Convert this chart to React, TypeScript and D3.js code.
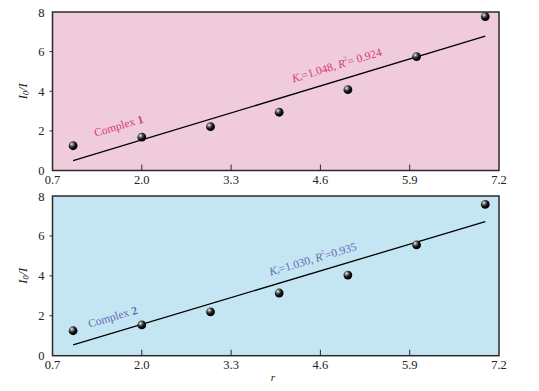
import React from 'react';
import * as d3 from 'd3';

const xTicks = [0.7, 2.0, 3.3, 4.6, 5.9, 7.2];
const yTicks = [0, 2, 4, 6, 8];
const rValues = [1, 2, 3, 4, 5, 6, 7];
const complex1Values = [1.25, 1.68, 2.21, 2.94, 4.08, 5.75, 7.77];
const complex2Values = [1.25, 1.54, 2.2, 3.14, 4.04, 5.55, 7.58];
const fit1 = { slope: 1.048, intercept: -0.55, r2: '0.924' };
const fit2 = { slope: 1.03, intercept: -0.49, r2: '0.935' };

const W = 539;
const H = 391;
const left = 52.5;
const right = 499;
const FONT = '"Liberation Serif", "DejaVu Serif", serif';

type PanelProps = {
  top: number;
  bottom: number;
  values: number[];
  fit: { slope: number; intercept: number; r2: string };
  fill: string;
  textColor: string;
  name: string;
  num: string;
  nameAt: [number, number];
  fitAt: [number, number];
  r2Sep: string;
  showXLabel: boolean;
};

const Panel = ({ top, bottom, values, fit, fill, textColor, name, num, nameAt, fitAt, r2Sep, showXLabel }: PanelProps) => {
  const x = d3.scaleLinear().domain([0.7, 7.2]).range([left, right]);
  const y = d3.scaleLinear().domain([0, 8]).range([bottom, top]);
  const x0 = rValues[0];
  const x1 = rValues[rValues.length - 1];
  const line = d3.line<number>().x(d => x(d)).y(d => y(fit.slope * d + fit.intercept));
  const angle = (Math.atan2(y(fit.slope * x1 + fit.intercept) - y(fit.slope * x0 + fit.intercept), x(x1) - x(x0)) * 180) / Math.PI;
  return (
    <g>
      <rect x={left} y={top} width={right - left} height={bottom - top} fill={fill} stroke="#2b2b2b" strokeWidth={1.5} />
      {xTicks.slice(1, -1).map(t => (
        <line key={t} x1={x(t)} x2={x(t)} y1={bottom} y2={bottom - 6} stroke="#2b2b2b" strokeWidth={1} />
      ))}
      {yTicks.slice(1, -1).map(t => (
        <line key={t} x1={left - 3} x2={left} y1={y(t)} y2={y(t)} stroke="#2b2b2b" strokeWidth={1} />
      ))}
      {xTicks.map(t => (
        <text key={t} x={x(t)} y={bottom + 13} textAnchor="middle" fontSize={12.5} fill="#222" fontFamily={FONT}>
          {t.toFixed(1)}
        </text>
      ))}
      {yTicks.map(t => (
        <text key={t} x={left - 8} y={y(t) + 4.5} textAnchor="end" fontSize={12.5} fill="#222" fontFamily={FONT}>
          {t}
        </text>
      ))}
      <text
        transform={`translate(27,${(top + bottom) / 2}) rotate(-90)`}
        textAnchor="middle"
        fontSize={12.5}
        fontStyle="italic"
        fill="#222"
        fontFamily={FONT}
      >
        I<tspan fontSize={8} dy={2}>0</tspan>
        <tspan dy={-2}>/I</tspan>
      </text>
      {showXLabel && (
        <text x={273} y={381} textAnchor="middle" fontSize={11} fontStyle="italic" fill="#222" fontFamily={FONT}>
          r
        </text>
      )}
      <path d={line([x0, x1]) || ''} stroke="#000" strokeWidth={1.3} fill="none" />
      {values.map((v, i) => (
        <circle key={i} cx={x(rValues[i])} cy={y(v)} r={4.4} fill="url(#sphere)" />
      ))}
      <text
        transform={`translate(${nameAt[0]},${nameAt[1]}) rotate(${angle})`}
        textAnchor="middle"
        dominantBaseline="middle"
        fontSize={11.5}
        fill={textColor}
        fontFamily={FONT}
      >
        {name} <tspan fontWeight="bold">{num}</tspan>
      </text>
      <text
        transform={`translate(${fitAt[0]},${fitAt[1]}) rotate(${angle})`}
        textAnchor="middle"
        dominantBaseline="middle"
        fontSize={11.5}
        fill={textColor}
        fontFamily={FONT}
      >
        <tspan fontStyle="italic">K</tspan>
        <tspan fontSize={6} dy={3}>s</tspan>
        <tspan dy={-3}>{`=${fit.slope.toFixed(3)}, `}</tspan>
        <tspan fontStyle="italic">R</tspan>
        <tspan fontSize={6} dy={-4}>2</tspan>
        <tspan dy={4}>{`${r2Sep}${fit.r2}`}</tspan>
      </text>
    </g>
  );
};

const App = () => (
  <svg width={W} height={H} style={{ position: 'absolute', left: 0, top: 0, background: '#fff' }}>
    <defs>
      <radialGradient id="sphere" cx="35%" cy="32%" r="70%">
        <stop offset="0%" stopColor="#ffffff" />
        <stop offset="25%" stopColor="#777" />
        <stop offset="60%" stopColor="#111" />
        <stop offset="100%" stopColor="#000" />
      </radialGradient>
    </defs>
    <Panel
      top={12}
      bottom={170.5}
      values={complex1Values}
      fit={fit1}
      fill="#efcbdb"
      textColor="#d6387a"
      name="Complex"
      num="1"
      nameAt={[119, 127]}
      fitAt={[337, 66]}
      r2Sep="= "
      showXLabel={false}
    />
    <Panel
      top={196}
      bottom={355.7}
      values={complex2Values}
      fit={fit2}
      fill="#c4e6f2"
      textColor="#6668b4"
      name="Complex"
      num="2"
      nameAt={[113, 318]}
      fitAt={[313, 260]}
      r2Sep="="
      showXLabel={true}
    />
  </svg>
);

export default App;
